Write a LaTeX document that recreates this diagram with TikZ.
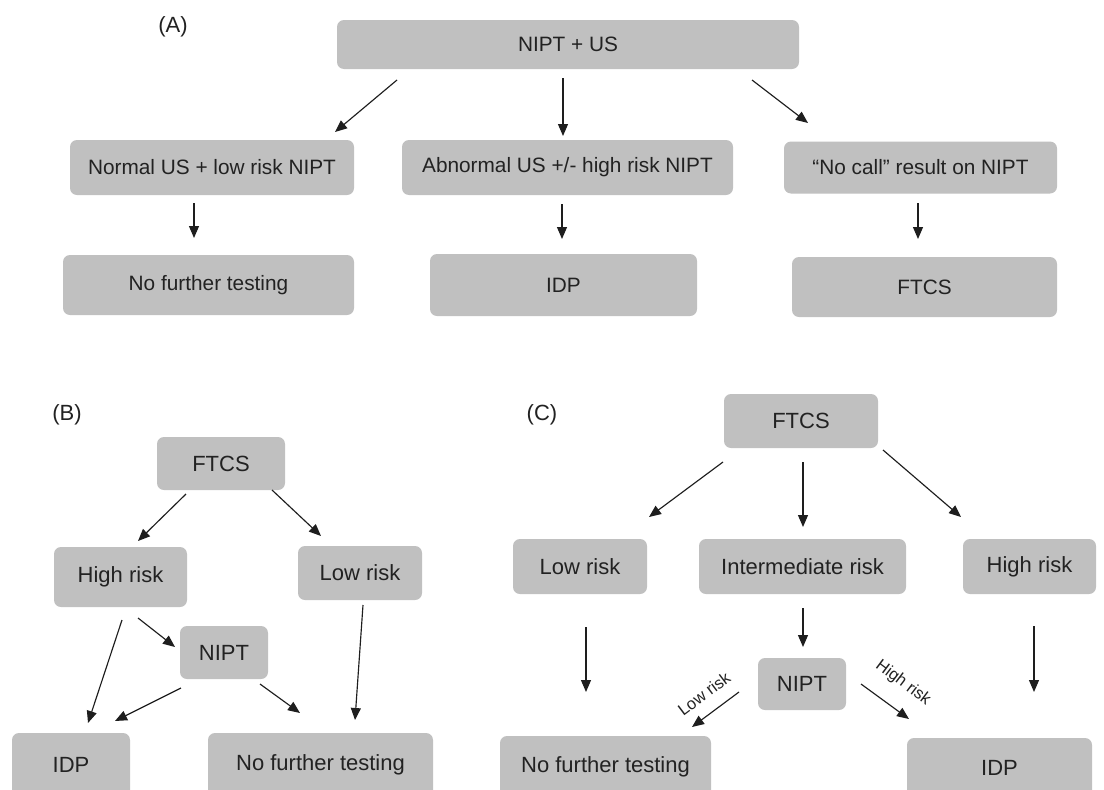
\documentclass[tikz,border=0pt]{standalone}
\usepackage{fontspec}
\setmainfont{Liberation Sans}
\usetikzlibrary{arrows.meta}
\definecolor{boxgray}{RGB}{192,192,192}
\definecolor{txt}{RGB}{34,34,34}
\definecolor{ln}{RGB}{30,30,30}
\tikzset{
  box/.style={rectangle, rounded corners=7pt, fill=boxgray, draw=none, inner sep=0pt, text=txt, align=center},
  fa/.style={font=\fontsize{20.8}{25}\selectfont},
  fb/.style={font=\fontsize{22}{26}\selectfont},
  lab/.style={text=txt, inner sep=0pt, font=\fontsize{22}{26}\selectfont},
  elab/.style={text=txt, inner sep=0pt, font=\fontsize{16.5}{19}\selectfont},
  arr/.style={draw=ln, line width=1.15pt, -{Triangle[length=12pt,width=10pt]}},
}
\begin{document}
\begin{tikzpicture}[x=1pt,y=-1pt]
\clip (0,0) rectangle (1104,790);
\fill[white] (0,0) rectangle (1104,790);

% ---------------- (A) ----------------
\node[lab] (labA) at (173,27) {(A)};
\node[box,fa,minimum width=462pt,minimum height=49pt] (top) at (568,44.5) {NIPT + US};
\node[box,fa,minimum width=284pt,minimum height=55pt] (a1) at (212,167.5) {Normal US + low risk NIPT};
\node[box,fa,minimum width=331pt,minimum height=55pt] (a2) at (567.5,167.5) {Abnormal US +/- high risk NIPT};
\node[box,fa,minimum width=273pt,minimum height=52pt] (a3) at (920.5,167.5) {“No call” result on NIPT};
\node[box,fa,minimum width=291pt,minimum height=60pt] (b1) at (208.5,285) {No further testing};
\node[box,fa,minimum width=267pt,minimum height=62pt] (b2) at (563.5,285) {IDP};
\node[box,fa,minimum width=265pt,minimum height=60pt] (b3) at (924.5,287) {FTCS};

\coordinate (t1s) at (397,80);  \coordinate (t1e) at (335,132);
\coordinate (t2s) at (563,78);  \coordinate (t2e) at (563,136);
\coordinate (t3s) at (752,80);  \coordinate (t3e) at (808,123);
\coordinate (d1s) at (194,203); \coordinate (d1e) at (194,238);
\coordinate (d2s) at (562,204); \coordinate (d2e) at (562,239);
\coordinate (d3s) at (918,203); \coordinate (d3e) at (918,239);
\draw[arr] (t1s) -- (t1e);
\draw[arr] (t2s) -- (t2e);
\draw[arr] (t3s) -- (t3e);
\draw[arr] (d1s) -- (d1e);
\draw[arr] (d2s) -- (d2e);
\draw[arr] (d3s) -- (d3e);

% ---------------- (B) ----------------
\node[lab] (labB) at (67,415) {(B)};
\node[box,fb,minimum width=128pt,minimum height=53pt] (fB) at (221,463.5) {FTCS};
\node[box,fb,minimum width=133pt,minimum height=60pt] (hB) at (120.5,577) {High risk};
\node[box,fb,minimum width=124pt,minimum height=54pt] (lB) at (360,573) {Low risk};
\node[box,fb,minimum width=88pt,minimum height=53pt] (nB) at (224,652.5) {NIPT};
\node[box,fb,minimum width=118pt,minimum height=64pt] (iB) at (71,765) {IDP};
\node[box,fb,minimum width=225pt,minimum height=64pt] (nfB) at (320.5,765) {No further testing};

\coordinate (b1s) at (186,494); \coordinate (b1e) at (138,541);
\coordinate (b2s) at (272,490); \coordinate (b2e) at (321,536);
\coordinate (b3s) at (122,620); \coordinate (b3e) at (88,723);
\coordinate (b4s) at (138,618); \coordinate (b4e) at (175,647);
\coordinate (b5s) at (181,688); \coordinate (b5e) at (115,721);
\coordinate (b6s) at (260,684); \coordinate (b6e) at (300,713);
\coordinate (b7s) at (363,605); \coordinate (b7e) at (355,720);
\draw[arr] (b1s) -- (b1e);
\draw[arr] (b2s) -- (b2e);
\draw[arr] (b3s) -- (b3e);
\draw[arr] (b4s) -- (b4e);
\draw[arr] (b5s) -- (b5e);
\draw[arr] (b6s) -- (b6e);
\draw[arr] (b7s) -- (b7e);

% ---------------- (C) ----------------
\node[lab] (labC) at (542,415) {(C)};
\node[box,fb,minimum width=154pt,minimum height=54pt] (fC) at (801,421) {FTCS};
\node[box,fb,minimum width=134pt,minimum height=55pt] (lC) at (580,566.5) {Low risk};
\node[box,fb,minimum width=207pt,minimum height=55pt] (mC) at (802.5,566.5) {Intermediate risk};
\node[box,fb,minimum width=133pt,minimum height=55pt] (hC) at (1029.5,566.5) {High risk};
\node[box,fb,minimum width=88pt,minimum height=52pt] (nC) at (802,684) {NIPT};
\node[box,fb,minimum width=211pt,minimum height=62pt] (nfC) at (605.5,767) {No further testing};
\node[box,fb,minimum width=185pt,minimum height=60pt] (iC) at (999.5,768) {IDP};

\coordinate (c1s) at (723,462); \coordinate (c1e) at (649,517);
\coordinate (c2s) at (803,462); \coordinate (c2e) at (803,527);
\coordinate (c3s) at (883,450); \coordinate (c3e) at (961,517);
\coordinate (c4s) at (586,627); \coordinate (c4e) at (586,692);
\coordinate (c5s) at (803,608); \coordinate (c5e) at (803,647);
\coordinate (c6s) at (1034,626); \coordinate (c6e) at (1034,692);
\coordinate (c7s) at (739,692); \coordinate (c7e) at (692,727);
\coordinate (c8s) at (861,684); \coordinate (c8e) at (909,719);
\draw[arr] (c1s) -- (c1e);
\draw[arr] (c2s) -- (c2e);
\draw[arr] (c3s) -- (c3e);
\draw[arr] (c4s) -- (c4e);
\draw[arr] (c5s) -- (c5e);
\draw[arr] (c6s) -- (c6e);
\draw[arr] (c7s) -- (c7e);
\draw[arr] (c8s) -- (c8e);
\node[elab, rotate=37] (lowlab) at (704,694) {Low risk};
\node[elab, rotate=-37] (highlab) at (903,683) {High risk};
\end{tikzpicture}
\end{document}
